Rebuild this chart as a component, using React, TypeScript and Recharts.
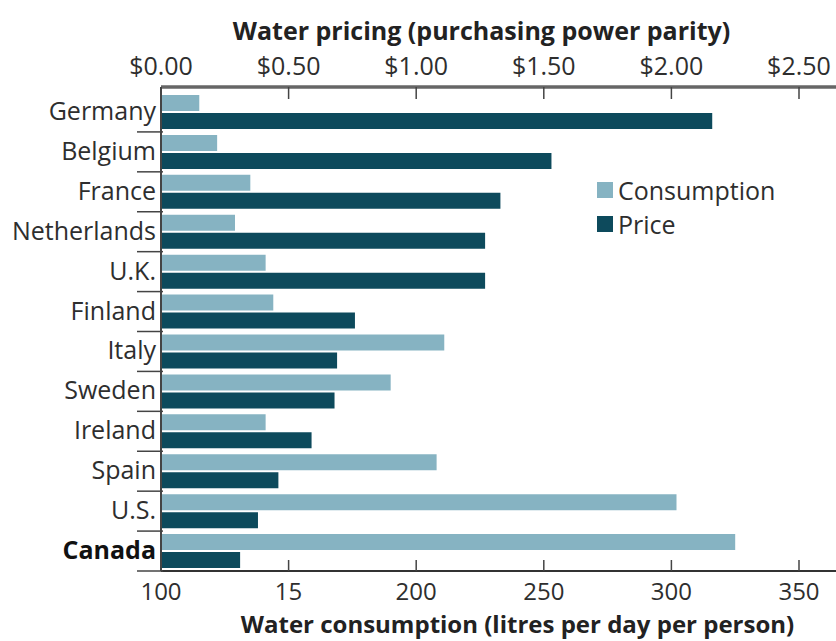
import React from 'react';
import { BarChart, Bar, XAxis, YAxis, Legend } from 'recharts';

const countries = ['Germany', 'Belgium', 'France', 'Netherlands', 'U.K.', 'Finland', 'Italy', 'Sweden', 'Ireland', 'Spain', 'U.S.', 'Canada'];
const consumption = [115, 122, 135, 129, 141, 144, 211, 190, 141, 208, 302, 325];
const price = [2.16, 1.53, 1.33, 1.27, 1.27, 0.76, 0.69, 0.68, 0.59, 0.46, 0.38, 0.31];
const priceTicks = [0, 0.5, 1, 1.5, 2, 2.5];
const priceTickLabels = ['$0.00', '$0.50', '$1.00', '$1.50', '$2.00', '$2.50'];
const consumptionTicks = [100, 150, 200, 250, 300, 350];
const consumptionTickLabels = ['100', '15', '200', '250', '300', '350'];
const boldCountries = ['Canada'];

const data = countries.map((country, i) => ({
    country,
    consumption: consumption[i],
    price: price[i],
}));

const FONT = '"Open Sans", sans-serif';
const TEXT = '#2e2e2e';
const LIGHT = '#86b3c2';
const DARK = '#0d4a5c';

const W = 836;
const H = 641;
const TOP_H = 87;
const BOTTOM_H = 70;
const LEFT_W = 161;
const PAD_TOP = 5;
const BAND = (H - TOP_H - BOTTOM_H - PAD_TOP) / countries.length;

const TopTick = (props: any) => {
    const { x, payload, index } = props;
    return (
        <g>
            <line x1={x} x2={x} y1={TOP_H} y2={TOP_H + 12} stroke="#444" strokeWidth={1.5} />
            <text x={x} y={75} textAnchor="middle" fill={TEXT} fontSize={25} fontFamily={FONT}>
                {priceTickLabels[index] ?? payload.value}
            </text>
        </g>
    );
};

const BottomTick = (props: any) => {
    const { x, payload, index } = props;
    const axisY = H - BOTTOM_H;
    return (
        <g>
            <line x1={x} x2={x} y1={axisY} y2={axisY - 11} stroke="#444" strokeWidth={1.5} />
            <text x={x} y={600} textAnchor="middle" fill={TEXT} fontSize={24} fontFamily={FONT}>
                {consumptionTickLabels[index] ?? payload.value}
            </text>
        </g>
    );
};

const CountryTick = (props: any) => {
    const { y, payload } = props;
    const bold = boldCountries.includes(payload.value);
    return (
        <g>
            <line x1={137} x2={163} y1={y + BAND / 2} y2={y + BAND / 2} stroke="#444" strokeWidth={1.5} />
            <text x={156} y={y + 8} textAnchor="end" fill={bold ? '#111' : TEXT} fontSize={25}
                  fontWeight={bold ? 700 : 400} fontFamily={FONT}>
                {payload.value}
            </text>
        </g>
    );
};

const renderLegend = () => (
    <div style={{ fontFamily: FONT, fontSize: 25, color: TEXT, lineHeight: '34px' }}>
        {[{ name: 'Consumption', color: LIGHT }, { name: 'Price', color: DARK }].map((item) => (
            <div key={item.name} style={{ display: 'flex', alignItems: 'center' }}>
                <span style={{ display: 'inline-block', width: 16, height: 16, background: item.color, marginRight: 5 }} />
                {item.name}
            </div>
        ))}
    </div>
);

const axisTitle = (text: string, dx: number, yPos: number, size: number) => (props: any) => {
    const vb = props.viewBox;
    return (
        <text x={vb.x + vb.width / 2 + dx} y={yPos} textAnchor="middle" fill="#222"
              fontSize={size} fontWeight={700} fontFamily={FONT}>
            {text}
        </text>
    );
};

export default function App() {
    return (
        <div style={{ width: W, height: H, background: '#fff', position: 'relative' }}>
            <style>{`body{margin:0}`}</style>
            <BarChart
                width={W}
                height={H}
                data={data}
                layout="vertical"
                margin={{ top: 0, right: 0, bottom: 0, left: 0 }}
                barSize={16}
                barGap={2}
            >
                <XAxis
                    xAxisId="price"
                    type="number"
                    orientation="top"
                    domain={[0, 2.645]}
                    allowDataOverflow
                    ticks={priceTicks}
                    interval={0}
                    height={TOP_H}
                    tickSize={0}
                    tickLine={false}
                    tick={<TopTick />}
                    axisLine={{ stroke: '#666', strokeWidth: 3.5 }}
                    label={{ content: axisTitle('Water pricing (purchasing power parity)', -17, 40, 25) }}
                />
                <XAxis
                    xAxisId="cons"
                    type="number"
                    orientation="bottom"
                    domain={[100, 364.5]}
                    allowDataOverflow
                    ticks={consumptionTicks}
                    interval={0}
                    height={BOTTOM_H}
                    tickSize={0}
                    tickLine={false}
                    tick={<BottomTick />}
                    axisLine={{ stroke: '#333', strokeWidth: 2 }}
                    label={{ content: axisTitle('Water consumption (litres per day per person)', 19, 633, 24) }}
                />
                <YAxis
                    type="category"
                    dataKey="country"
                    width={LEFT_W}
                    padding={{ top: PAD_TOP, bottom: 0 }}
                    interval={0}
                    tickLine={false}
                    tick={<CountryTick />}
                    axisLine={{ stroke: '#444', strokeWidth: 2 }}
                />
                <Legend
                    layout="vertical"
                    verticalAlign="middle"
                    align="center"
                    content={renderLegend}
                    wrapperStyle={{ position: 'absolute', left: 597, top: 173, width: 'auto', height: 'auto' }}
                />
                <Bar xAxisId="cons" dataKey="consumption" name="Consumption" fill={LIGHT} isAnimationActive={false} />
                <Bar xAxisId="price" dataKey="price" name="Price" fill={DARK} isAnimationActive={false} />
            </BarChart>
        </div>
    );
}
